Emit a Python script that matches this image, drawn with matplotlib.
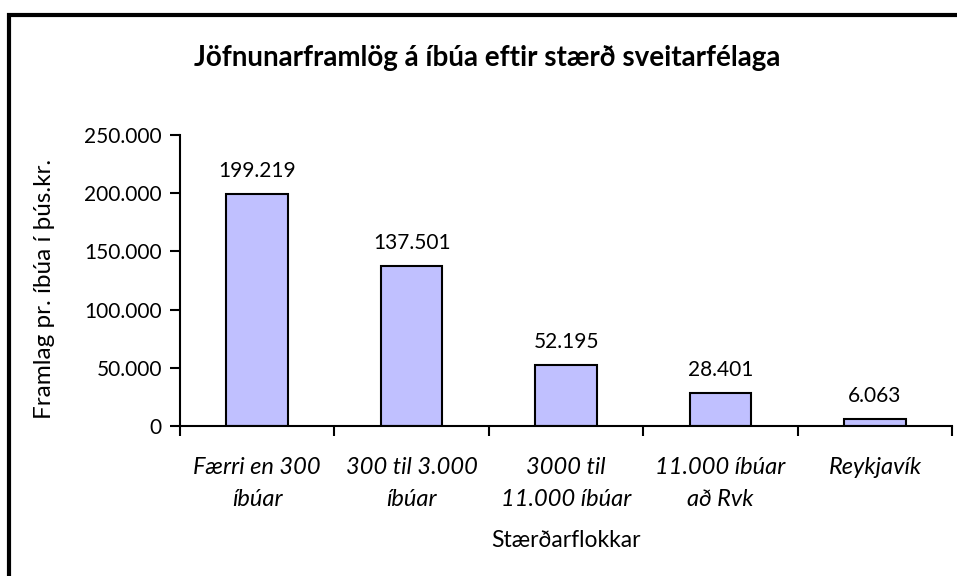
import matplotlib.pyplot as plt
from matplotlib.patches import Rectangle
import numpy as np

plt.rcParams['font.family'] = ['Lato', 'DejaVu Sans']

# Gögn
flokkar = ["Færri en 300\níbúar", "300 til 3.000\níbúar", "3000 til\n11.000 íbúar",
           "11.000 íbúar\nað Rvk", "Reykjavík"]
framlag = [199219, 137501, 52195, 28401, 6063]
yticks = [0, 50000, 100000, 150000, 200000, 250000]


def isl(v):
    # þúsundaskil með punkti
    return f"{v:,.0f}".replace(",", ".")


fig = plt.figure(figsize=(9.57, 5.76), dpi=100)
ax = fig.add_axes([0.188, 0.2604, 0.807, 0.5052])

x = np.arange(len(flokkar))
ax.bar(x, framlag, width=0.4, color="#C0C0FF", edgecolor="black", linewidth=1.5)

for xi, v in zip(x, framlag):
    ax.text(xi, v + 11000, isl(v), ha="center", va="bottom", fontsize=15)

ax.set_xlim(-0.5, len(flokkar) - 0.5)
ax.set_ylim(0, 250000)
ax.set_yticks(yticks)
ax.set_yticklabels([isl(t) for t in yticks], fontsize=15)

ax.set_xticks(np.arange(-0.5, len(flokkar), 1.0))
ax.set_xticklabels([])
ax.set_xticks(x, minor=True)
ax.set_xticklabels(flokkar, minor=True, fontsize=17, style="italic", linespacing=1.65)
ax.tick_params(axis="x", which="minor", length=0, pad=22)
ax.tick_params(axis="both", which="major", direction="out", length=7, width=1.5)
ax.tick_params(axis="y", pad=6)

for s in ["top", "right"]:
    ax.spines[s].set_visible(False)
for s in ["left", "bottom"]:
    ax.spines[s].set_linewidth(1.5)

ax.set_xlabel("Stærðarflokkar", fontsize=16.5, va="center")
ax.xaxis.set_label_coords(0.5, -0.392)
ax.set_ylabel("Framlag pr. íbúa í þús.kr.", fontsize=17.5, va="center")
ax.yaxis.set_label_coords(-0.175, 0.471)

fig.text(0.509, 0.90, "Jöfnunarframlög á íbúa eftir stærð sveitarfélaga",
         ha="center", va="center", fontsize=20, fontweight="bold")

# rammi utan um myndina
fig.patches.append(Rectangle((0.0094, -0.1), 1.2, 1.074,
                             transform=fig.transFigure, fill=False,
                             edgecolor="black", linewidth=3, clip_on=False))

fig.savefig("out.png", dpi=100)
